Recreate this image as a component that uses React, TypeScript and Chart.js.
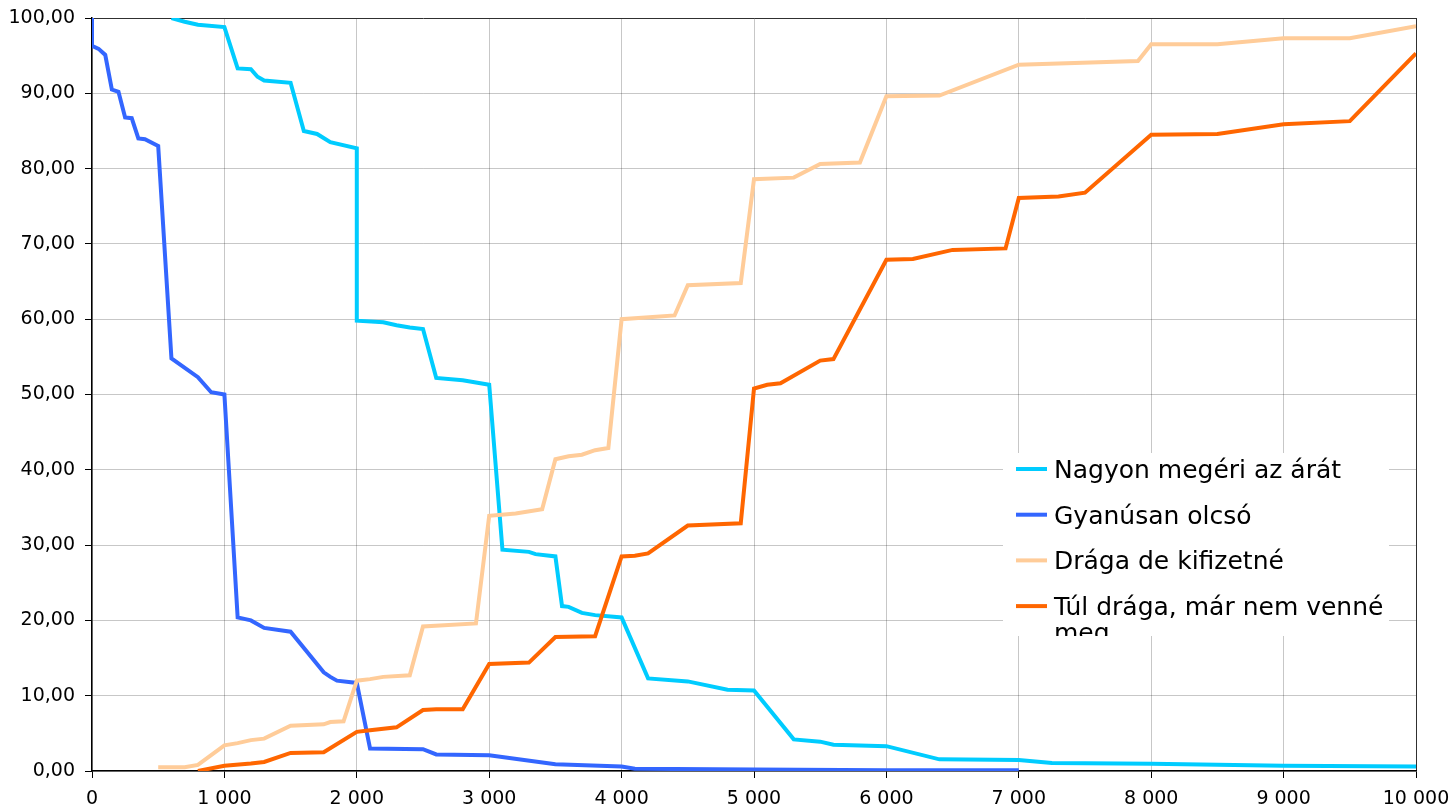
import React, { useEffect, useRef } from 'react';
import { Chart, registerables } from 'chart.js';

Chart.register(...registerables);

// ---- Data ----
const seriesLabels = [
  'Nagyon megéri az árát',
  'Gyanúsan olcsó',
  'Drága de kifizetné',
  'Túl drága, már nem venné meg',
];
const seriesColors = ['#00CCFF', '#3366FF', '#FFCC99', '#FF6600'];

const nagyonX = [600, 700, 750, 800, 1000, 1100, 1200, 1250, 1300, 1500, 1600, 1700, 1800, 2000, 2000, 2200, 2300, 2400, 2500, 2600, 2800, 3000, 3100, 3300, 3350, 3500, 3550, 3600, 3700, 3800, 4000, 4200, 4500, 4800, 5000, 5300, 5500, 5600, 6000, 6400, 7000, 7250, 8000, 9000, 10000];
const nagyonY = [100, 99.5, 99.3, 99.1, 98.8, 93.3, 93.2, 92.2, 91.7, 91.4, 85.0, 84.6, 83.5, 82.7, 59.8, 59.6, 59.2, 58.9, 58.7, 52.2, 51.9, 51.3, 29.4, 29.1, 28.8, 28.5, 21.9, 21.8, 21.0, 20.7, 20.4, 12.3, 11.9, 10.8, 10.7, 4.2, 3.9, 3.5, 3.3, 1.55, 1.46, 1.05, 0.95, 0.7, 0.6];

const gyanusX = [0, 0, 50, 100, 150, 200, 250, 300, 350, 400, 500, 600, 800, 900, 1000, 1100, 1200, 1300, 1500, 1750, 1800, 1850, 2000, 2100, 2500, 2600, 3000, 3500, 4000, 4100, 5000, 6000, 7000];
const gyanusY = [100, 96.3, 95.9, 95.1, 90.5, 90.2, 86.8, 86.7, 84.0, 83.9, 83.0, 54.8, 52.3, 50.3, 50.0, 20.4, 20.0, 19.0, 18.5, 13.1, 12.5, 12.0, 11.7, 3.0, 2.9, 2.2, 2.1, 0.9, 0.6, 0.3, 0.2, 0.1, 0.1];

const dragaX = [500, 700, 800, 1000, 1100, 1200, 1300, 1500, 1750, 1800, 1900, 2000, 2100, 2200, 2400, 2500, 2900, 3000, 3200, 3400, 3500, 3600, 3700, 3800, 3900, 4000, 4400, 4500, 4900, 5000, 5300, 5500, 5800, 6000, 6400, 7000, 7900, 8000, 8500, 9000, 9500, 10000];
const dragaY = [0.5, 0.5, 0.8, 3.4, 3.7, 4.1, 4.3, 6.0, 6.2, 6.5, 6.6, 12.0, 12.2, 12.5, 12.7, 19.2, 19.6, 33.9, 34.2, 34.75, 41.4, 41.8, 42.0, 42.6, 42.9, 60.0, 60.5, 64.5, 64.8, 78.6, 78.8, 80.6, 80.8, 89.6, 89.7, 93.8, 94.3, 96.5, 96.5, 97.3, 97.3, 98.9];

const tulX = [800, 1000, 1200, 1300, 1500, 1750, 2000, 2100, 2300, 2500, 2600, 2800, 3000, 3300, 3500, 3800, 4000, 4100, 4200, 4500, 4900, 5000, 5100, 5200, 5500, 5600, 6000, 6200, 6500, 6900, 7000, 7300, 7500, 8000, 8500, 9000, 9500, 10000];
const tulY = [0, 0.7, 1.0, 1.2, 2.4, 2.5, 5.2, 5.4, 5.8, 8.1, 8.2, 8.2, 14.2, 14.4, 17.8, 17.9, 28.5, 28.6, 28.9, 32.6, 32.9, 50.8, 51.3, 51.5, 54.5, 54.7, 67.9, 68.0, 69.2, 69.4, 76.1, 76.3, 76.8, 84.5, 84.6, 85.9, 86.3, 95.3];

const xMin = 0;
const xMax = 10000;
const xStep = 1000;
const yMin = 0;
const yMax = 100;
const yStep = 10;

const toPoints = (xs: number[], ys: number[]) => xs.map((x, i) => ({ x, y: ys[i] }));

const formatX = (v: number) => String(Math.round(v)).replace(/\B(?=(\d{3})+(?!\d))/g, ' ');
const formatY = (v: number) => v.toFixed(2).replace('.', ',');

const FONT = 'DejaVu Sans';

const legendPlugin = {
  id: 'boxLegend',
  afterDraw(chart: any) {
    const ctx = chart.ctx;
    const bx = 1003, by = 453, bw = 386, bh = 183;
    ctx.save();
    ctx.fillStyle = '#ffffff';
    ctx.fillRect(bx, by, bw, bh);
    ctx.beginPath();
    ctx.rect(bx, by, bw, bh);
    ctx.clip();
    ctx.font = `25px "${FONT}"`;
    ctx.fillStyle = '#000000';
    ctx.textBaseline = 'alphabetic';
    ctx.textAlign = 'left';
    const rowStart = 469;
    const rowGap = 45.7;
    const textX = 1054;
    const maxW = bw - (textX - bx) - 4;
    chart.data.datasets.forEach((ds: any, i: number) => {
      const cy = rowStart + i * rowGap;
      ctx.strokeStyle = ds.borderColor;
      ctx.lineWidth = 4;
      ctx.beginPath();
      ctx.moveTo(1016, cy);
      ctx.lineTo(1047, cy);
      ctx.stroke();
      const words = String(ds.label).split(' ');
      const lines: string[] = [];
      let cur = '';
      words.forEach((w) => {
        const test = cur ? cur + ' ' + w : w;
        if (ctx.measureText(test).width > maxW && cur) {
          lines.push(cur);
          cur = w;
        } else {
          cur = test;
        }
      });
      if (cur) lines.push(cur);
      lines.forEach((ln, li) => {
        ctx.fillText(ln, textX, cy + 9 + li * 26);
      });
    });
    ctx.restore();
  },
};

export default function App() {
  const canvasRef = useRef<HTMLCanvasElement | null>(null);

  useEffect(() => {
    document.body.style.margin = '0';
    const canvas = canvasRef.current;
    if (!canvas) return;
    const mk = (idx: number, xs: number[], ys: number[], order: number) => ({
      label: seriesLabels[idx],
      data: toPoints(xs, ys),
      borderColor: seriesColors[idx],
      backgroundColor: seriesColors[idx],
      borderWidth: 4,
      pointRadius: 0,
      tension: 0,
      fill: false,
      order,
    });
    const chart = new Chart(canvas, {
      type: 'line',
      data: {
        datasets: [
          mk(0, nagyonX, nagyonY, 4),
          mk(1, gyanusX, gyanusY, 3),
          mk(2, dragaX, dragaY, 2),
          mk(3, tulX, tulY, 1),
        ],
      },
      options: {
        responsive: false,
        animation: false,
        layout: { padding: { top: 18, right: 37, left: 0, bottom: 0 } },
        plugins: {
          legend: { display: false },
          tooltip: { enabled: false },
        },
        scales: {
          x: {
            type: 'linear',
            min: xMin,
            max: xMax,
            afterFit: (s: any) => {
              s.height = 38;
              s.paddingLeft = 0;
              s.paddingRight = 0;
            },
            ticks: {
              stepSize: xStep,
              autoSkip: false,
              maxRotation: 0,
              padding: 10,
              color: '#000',
              font: { family: FONT, size: 19 },
              callback: (v: any) => formatX(Number(v)),
            },
            grid: {
              color: (c: any) => (c.tick && c.tick.value === xMax ? '#303030' : 'rgba(0,0,0,0.22)'),
              lineWidth: 1,
              tickLength: 7,
              tickColor: '#000',
            },
            border: { color: '#000', width: 1.5 },
          },
          y: {
            type: 'linear',
            min: yMin,
            max: yMax,
            afterFit: (s: any) => {
              s.width = 92;
              s.paddingTop = 0;
              s.paddingBottom = 0;
            },
            ticks: {
              stepSize: yStep,
              padding: 10,
              color: '#000',
              font: { family: FONT, size: 19 },
              callback: (v: any) => formatY(Number(v)),
            },
            grid: {
              color: (c: any) => (c.tick && c.tick.value === yMax ? '#303030' : 'rgba(0,0,0,0.22)'),
              lineWidth: 1,
              tickLength: 7,
              tickColor: '#000',
            },
            border: { color: '#000', width: 1.5 },
          },
        },
      },
      plugins: [legendPlugin],
    } as any);
    return () => chart.destroy();
  }, []);

  return (
    <div style={{ position: 'fixed', left: 0, top: 0, width: 1453, height: 809, background: '#fff' }}>
      <canvas ref={canvasRef} width={1453} height={809} style={{ width: 1453, height: 809 }} />
    </div>
  );
}
